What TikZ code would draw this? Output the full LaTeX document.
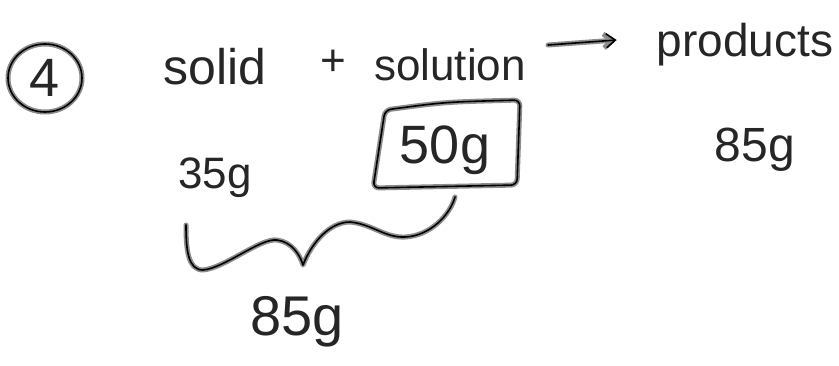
\documentclass[tikz,border=0pt]{standalone}
\usepackage{fontspec}
\setmainfont{Liberation Sans}
\usetikzlibrary{positioning,arrows.meta,calc}
\tikzset{
  ink/.style={line width=1.6pt, draw=black, line cap=round, line join=round,
    preaction={draw=black!45, line width=5pt, line cap=round, line join=round}},
  word/.style={inner sep=0pt, text=black!85},
}
\begin{document}
\begin{tikzpicture}[x=1pt, y=-1pt]
  \useasboundingbox (0,0) rectangle (839,365);
  % question number
  \node[word, font=\fontsize{54}{54}\selectfont] (num) at (45,78) {4};
  \draw[ink] (num) ellipse [x radius=37, y radius=34];
  % reaction
  \node[word, font=\fontsize{50}{50}\selectfont] (solid) at (215,67) {solid};
  \node[word, font=\fontsize{44}{44}\selectfont] (plus) at (333,63) {+};
  \node[word, font=\fontsize{44}{44}\selectfont] (solution) at (450,65) {solution};
  \node[word, font=\fontsize{46}{46}\selectfont] (products) at (745,45) {products};
  \draw[ink, -{Straight Barb[length=9pt, width=14pt]}] ([xshift=22pt, yshift=20pt]solution.east) -- ([xshift=-40pt, yshift=5pt]products.west);
  % masses
  \node[word, font=\fontsize{44}{44}\selectfont] (m35) at (215,178) {35g};
  \node[word, font=\fontsize{54}{54}\selectfont] (m50) at (445,150) {50g};
  \node[word, font=\fontsize{48}{48}\selectfont] (m85r) at (755,150) {85g};
  \node[word, font=\fontsize{56}{56}\selectfont] (m85b) at (297,322) {85g};
  % box round 50g
  \draw[ink, rounded corners=6pt] ($(m50)+(-60,-40)$) .. controls ($(m50)+(0,-48)$) .. ($(m50)+(75,-50)$)
    -- ($(m50)+(72,35)$) -- ($(m50)+(-72,38)$) -- cycle;
  % brace
  \draw[ink] (186,225) .. controls (186,250) and (188,270) .. (203,270)
    .. controls (225,268) and (260,238) .. (277,240)
    .. controls (292,242) and (300,255) .. (303,265)
    .. controls (312,242) and (330,222) .. (350,222)
    .. controls (372,224) and (385,238) .. (405,237)
    .. controls (430,236) and (450,215) .. (455,197);
\end{tikzpicture}
\end{document}
